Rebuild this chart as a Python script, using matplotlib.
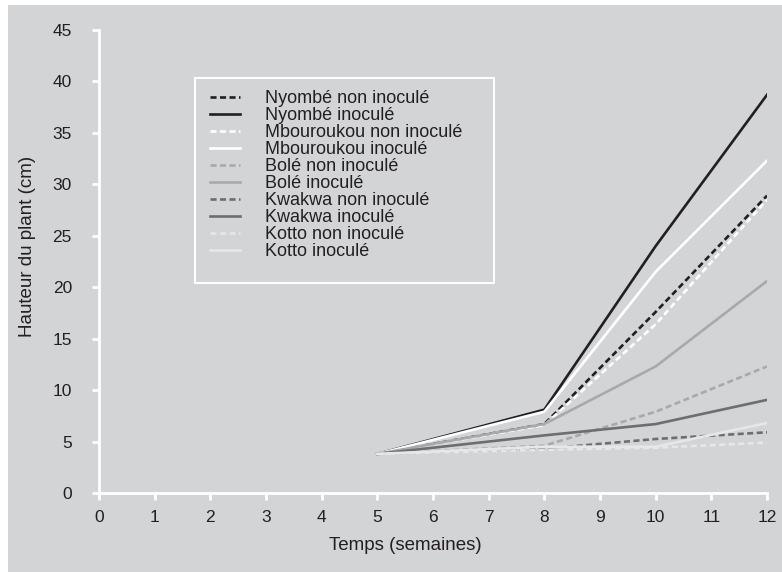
import numpy as np
import matplotlib.pyplot as plt
from matplotlib.patches import Rectangle

plt.rcParams['font.family'] = ['Liberation Sans', 'DejaVu Sans']

# semaines
temps = [5, 8, 10, 12]

# hauteur du plant (cm)
nyombe_non = [3.8, 6.7, 17.6, 28.9]
nyombe_ino = [3.8, 8.1, 24.0, 38.7]
mbouroukou_non = [3.8, 6.6, 16.4, 28.5]
mbouroukou_ino = [3.8, 7.9, 21.5, 32.3]
bole_non = [3.8, 4.6, 7.9, 12.3]
bole_ino = [3.8, 6.7, 12.3, 20.6]
kwakwa_non = [3.8, 4.3, 5.25, 5.9]
kwakwa_ino = [3.8, 5.6, 6.7, 9.05]
kotto_non = [3.8, 4.2, 4.4, 4.9]
kotto_ino = [3.8, 4.5, 4.5, 6.8]

series = [
    ('Nyombé non inoculé', nyombe_non, '#231f20', '--'),
    ('Nyombé inoculé', nyombe_ino, '#231f20', '-'),
    ('Mbouroukou non inoculé', mbouroukou_non, '#ffffff', '--'),
    ('Mbouroukou inoculé', mbouroukou_ino, '#ffffff', '-'),
    ('Bolé non inoculé', bole_non, '#a7a9ac', '--'),
    ('Bolé inoculé', bole_ino, '#a7a9ac', '-'),
    ('Kwakwa non inoculé', kwakwa_non, '#6d6e71', '--'),
    ('Kwakwa inoculé', kwakwa_ino, '#6d6e71', '-'),
    ('Kotto non inoculé', kotto_non, '#e6e7e8', '--'),
    ('Kotto inoculé', kotto_ino, '#e6e7e8', '-'),
]

fond = '#d3d4d6'
texte = '#231f20'
W, H = 782, 572
fig = plt.figure(figsize=(7.82, 5.72), dpi=100)
fig.patch.set_facecolor('white')
fig.patches.append(Rectangle((8/W, 0), 1, 1 - 5/H, transform=fig.transFigure,
                             facecolor=fond, edgecolor='none', zorder=-10))
# cadre de la légende
fig.patches.append(Rectangle((195/W, 1 - 283/H), (494-195)/W, (283-78)/H,
                             transform=fig.transFigure, facecolor='none',
                             edgecolor='white', lw=1.5, zorder=5))

ax = fig.add_axes([99/W, 1 - 493/H, (767-99)/W, (493-30)/H])
ax.set_facecolor('none')

for nom, y, c, ls in series:
    if ls == '--':
        ax.plot(temps, y, color=c, lw=1.9, linestyle=(0, (2.3, 1.3)), label=nom)
    else:
        ax.plot(temps, y, color=c, lw=1.9, label=nom)

ax.set_xlim(0, 12)
ax.set_ylim(0, 45)
ax.set_xticks(range(0, 13))
ax.set_yticks(range(0, 46, 5))
for s in ['top', 'right']:
    ax.spines[s].set_visible(False)
for s in ['left', 'bottom']:
    ax.spines[s].set_color('white')
    ax.spines[s].set_linewidth(2)
ax.tick_params(colors='white', width=2, length=5, labelcolor=texte, labelsize=12.5)
ax.tick_params(axis='x', pad=7.5)
ax.tick_params(axis='y', pad=14.5)
ax.set_xlabel('Temps (semaines)', fontsize=13.5, color=texte)
ax.xaxis.set_label_coords((405-99)/668, -44/463)
ax.set_ylabel('Hauteur du plant (cm)', fontsize=13.5, color=texte)
ax.yaxis.set_label_coords(-63/668, (493-246)/463)

leg = fig.legend(loc='upper left', bbox_to_anchor=(210/W, 1 - 90/H), fontsize=13,
                 frameon=False, handlelength=1.67, handletextpad=1.4,
                 labelspacing=0.0, borderpad=0, borderaxespad=0)
for t in leg.get_texts():
    t.set_color(texte)

plt.savefig('out.png', dpi=100)
